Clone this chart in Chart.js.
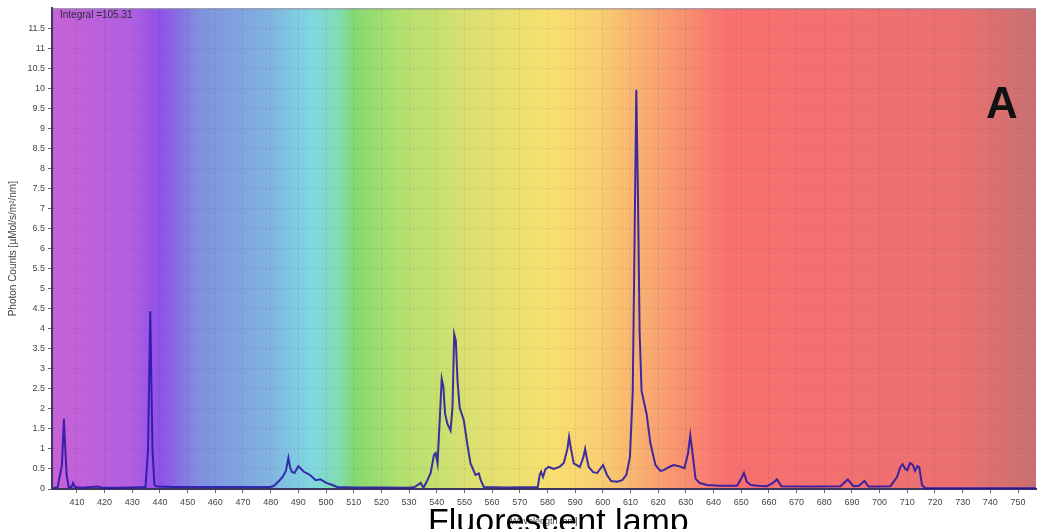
<!DOCTYPE html>
<html>
<head>
<meta charset="utf-8">
<script src="https://cdn.jsdelivr.net/npm/chart.js@4"></script>
<style>
    body { margin: 0; background: #fff; }
    #wrap { position: relative; width: 1038px; height: 529px; overflow: hidden; font-family: "Liberation Sans", Arial, sans-serif; }
    #integral { position: absolute; left: 60px; top: 9px; font-size: 10px; color: #2a2a3a; }
    #tag { position: absolute; left: 986px; top: 78px; font-size: 44px; font-weight: bold; color: #111; }
    #caption { position: absolute; left: 428px; top: 503px; font-size: 34px; line-height: 34px; color: #000; white-space: nowrap; }
</style>
</head>
<body>
<div id="wrap">
    <canvas id="spectrum" width="1038" height="529"></canvas>
    <div id="integral">Integral =105.31</div>
    <div id="tag">A</div>
    <div id="caption">Fluorescent lamp</div>
</div>
<script>
// spectrum (wavelength nm -> photon counts)
const wavelengths = [
    401.5, 403.0, 404.6, 405.3, 405.8, 406.3, 407.0, 408.0, 408.6, 409.3, 412, 417.5, 419, 425, 430,
    434.8, 435.7, 436.5, 437.3, 438.0, 439, 445, 460, 470, 480,
    481.2, 483.0, 484.3, 485.5, 486.4, 487.0, 487.6, 488.6, 490.0, 491.0, 492.0, 493.5, 494.5,
    496.3, 498.0, 499.9, 502.3, 504, 510, 520, 530,
    532, 534.2, 535.2, 536.5, 537.8, 539.0, 539.6, 540.3, 541.2, 541.8, 542.4, 543.0, 543.8,
    545.0, 545.7, 546.3, 546.9, 547.5, 548.3, 549.8, 551.0, 552.2, 554.0, 555.2, 556.0, 557.0,
    565, 576.5, 577.2, 577.7, 578.4, 579.3, 580.5, 582.3, 584.5, 585.9, 587.2, 587.8, 588.5,
    589.5, 591.7, 593.0, 593.6, 594.3, 594.9, 596.5, 598, 600.1, 601.5, 603, 605.2, 607, 608.5,
    609.8, 610.8, 611.5, 612.1, 612.7, 613.3, 614.0, 615.8, 617.2, 619.0, 620.8, 622.0, 624.0,
    625.6, 627.5, 629.5, 630.8, 631.6, 632.4, 633.5, 635, 637.7, 642, 648.5, 650.3, 651.0, 652.0,
    653.5, 656, 659.3, 661.5, 662.9, 664.5, 675, 685.8, 688.5, 690.5, 692.5, 694.5, 696, 700,
    703.9, 706.3, 707.5, 708.3, 709.3, 710.0, 711.0, 712.0, 712.8, 713.6, 714.3, 715.3, 716.5,
    730, 745, 756.5
];
const photonCounts = [
    0.03, 0.04, 0.6, 1.75, 1.0, 0.35, 0.05, 0.04, 0.15, 0.05, 0.03, 0.06, 0.03, 0.03, 0.04,
    0.05, 1.0, 4.44, 1.0, 0.1, 0.06, 0.05, 0.05, 0.05, 0.05,
    0.08, 0.2, 0.3, 0.45, 0.78, 0.55, 0.43, 0.4, 0.57, 0.5, 0.43, 0.38, 0.33,
    0.22, 0.24, 0.16, 0.1, 0.05, 0.04, 0.04, 0.03,
    0.05, 0.15, 0.03, 0.2, 0.4, 0.85, 0.9, 0.64, 1.9, 2.75, 2.55, 1.88, 1.64,
    1.46, 2.05, 3.87, 3.7, 2.7, 2.03, 1.71, 1.14, 0.64, 0.35, 0.39, 0.2, 0.05,
    0.04, 0.05, 0.35, 0.43, 0.3, 0.5, 0.55, 0.5, 0.56, 0.65, 1.0, 1.3, 1.0,
    0.64, 0.55, 0.8, 1.0, 0.75, 0.55, 0.42, 0.4, 0.6, 0.35, 0.2, 0.18, 0.22, 0.35,
    0.8, 2.4, 6.4, 9.97, 7.3, 3.9, 2.45, 1.88, 1.14, 0.6, 0.45, 0.47, 0.55,
    0.6, 0.57, 0.52, 0.9, 1.34, 0.9, 0.26, 0.15, 0.1, 0.08, 0.08, 0.3, 0.4, 0.18,
    0.1, 0.08, 0.07, 0.15, 0.24, 0.07, 0.06, 0.07, 0.24, 0.07, 0.08, 0.2, 0.06, 0.06,
    0.07, 0.3, 0.55, 0.62, 0.5, 0.47, 0.65, 0.6, 0.45, 0.57, 0.55, 0.1, 0.02,
    0.02, 0.02, 0.02
];
const xTickValues = [410, 420, 430, 440, 450, 460, 470, 480, 490, 500, 510, 520, 530, 540, 550, 560,
    570, 580, 590, 600, 610, 620, 630, 640, 650, 660, 670, 680, 690, 700, 710, 720, 730, 740, 750];
const yTickValues = [0, 0.5, 1, 1.5, 2, 2.5, 3, 3.5, 4, 4.5, 5, 5.5, 6, 6.5, 7, 7.5, 8, 8.5, 9, 9.5,
    10, 10.5, 11, 11.5];

// spectral background behind the plot
const bgStopsNm = [401, 430, 440, 454, 478, 495, 505, 510, 526, 550, 581, 598, 621, 645, 729, 756.5];
const bgStopsColor = ["#c862d6", "#b060e0", "#9050e8", "#8090e0", "#80b0e0", "#80d8e0", "#82dcb0",
    "#84d870", "#b0e070", "#d8e070", "#f8e070", "#f8d070", "#f8a070", "#f87070", "#ec7070", "#c87070"];

const spectrumBackground = {
    id: "spectrumBackground",
    beforeDraw(chart) {
        const { ctx, chartArea: a, scales } = chart;
        const x0 = scales.x.getPixelForValue(bgStopsNm[0]);
        const x1 = scales.x.getPixelForValue(bgStopsNm[bgStopsNm.length - 1]);
        const grad = ctx.createLinearGradient(x0, 0, x1, 0);
        bgStopsNm.forEach((nm, i) => {
            const t = (nm - bgStopsNm[0]) / (bgStopsNm[bgStopsNm.length - 1] - bgStopsNm[0]);
            grad.addColorStop(Math.min(1, Math.max(0, t)), bgStopsColor[i]);
        });
        ctx.save();
        ctx.fillStyle = grad;
        ctx.fillRect(a.left, a.top, a.right - a.left, a.bottom - a.top);
        ctx.strokeStyle = "#8a8a9a";
        ctx.lineWidth = 1;
        ctx.beginPath();
        ctx.moveTo(a.left, a.top + 0.5);
        ctx.lineTo(a.right, a.top + 0.5);
        ctx.stroke();
        ctx.restore();
    }
};

const tickFont = { family: "Liberation Sans", size: 9 };

new Chart(document.getElementById("spectrum"), {
    type: "line",
    data: {
        datasets: [{
            data: wavelengths.map((w, i) => ({ x: w, y: photonCounts[i] })),
            borderColor: "rgba(38, 22, 165, 0.88)",
            borderWidth: 2,
            pointRadius: 0,
            tension: 0,
            fill: false
        }]
    },
    options: {
        responsive: false,
        animation: false,
        layout: { padding: { top: 5, right: 2, left: 0, bottom: 0 } },
        plugins: {
            legend: { display: false },
            tooltip: { enabled: false }
        },
        scales: {
            x: {
                type: "linear",
                min: 401,
                max: 756.5,
                afterBuildTicks: axis => { axis.ticks = xTickValues.map(v => ({ value: v })); },
                afterFit: axis => { axis.height = 40; },
                ticks: { font: tickFont, color: "#444", maxRotation: 0, autoSkip: false, padding: 4 },
                grid: { color: "rgba(70, 50, 80, 0.14)", tickColor: "#666", tickLength: 4 },
                border: { color: "#3a3a60", width: 2, dash: [2, 2] },
                title: {
                    display: true,
                    text: "Wavelength [nm]",
                    font: { family: "Liberation Sans", size: 9 },
                    color: "#444",
                    padding: { top: 0, bottom: 2 }
                }
            },
            y: {
                min: 0,
                max: 12,
                afterBuildTicks: axis => { axis.ticks = yTickValues.map(v => ({ value: v })); },
                afterFit: axis => { axis.width = 52; },
                ticks: { font: tickFont, color: "#444", padding: 3, callback: v => String(v) },
                grid: { color: "rgba(70, 50, 80, 0.12)", tickColor: "#666", tickLength: 4 },
                border: { color: "#3a3a60", width: 2, dash: [2, 2] },
                title: {
                    display: true,
                    text: "Photon Counts [µMol/s/m²/nm]",
                    font: { family: "Liberation Sans", size: 10 },
                    color: "#444",
                    padding: { top: 7, bottom: 0 }
                }
            }
        }
    },
    plugins: [spectrumBackground]
});
</script>
</body>
</html>
